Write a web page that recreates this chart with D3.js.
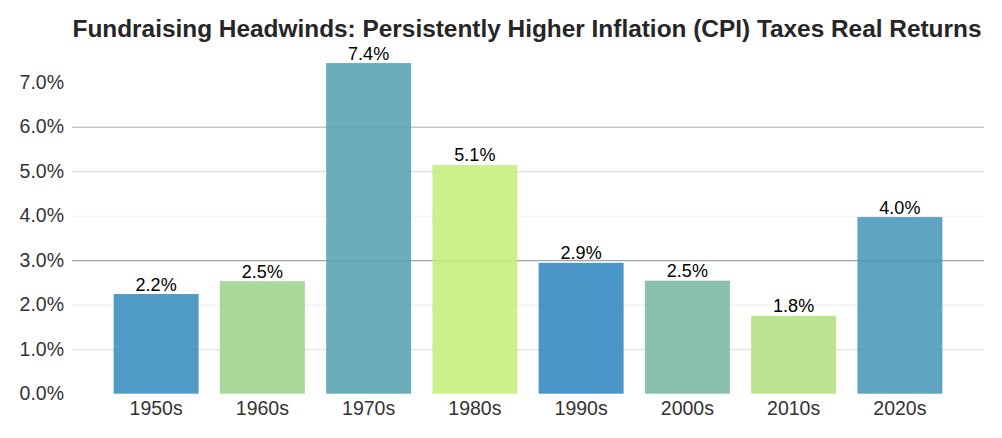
<!DOCTYPE html>
<html>
<head>
<meta charset="utf-8">
<script src="https://cdn.jsdelivr.net/npm/d3@7"></script>
<style>
  body { margin: 0; background: #fff; }
  svg text { font-family: "Liberation Sans", Arial, sans-serif; }
</style>
</head>
<body>
<div id="chart"></div>
<script>
// decades and average CPI inflation (%)
var decades = ["1950s", "1960s", "1970s", "1980s", "1990s", "2000s", "2010s", "2020s"];
var inflation = [2.24, 2.53, 7.43, 5.14, 2.94, 2.54, 1.75, 3.97];
var valueLabels = ["2.2%", "2.5%", "7.4%", "5.1%", "2.9%", "2.5%", "1.8%", "4.0%"];
var yTicks = [0, 1, 2, 3, 4, 5, 6, 7];
var barColors = ["#328abe", "#99d289", "#50a0af", "#c3ed75", "#2a84be", "#74b69d", "#afdf7c", "#4394b8"];

var width = 1002, height = 438;

var svg = d3.select("#chart")
    .append("svg")
    .attr("width", width)
    .attr("height", height);

// title
svg.append("text")
    .attr("x", 527)
    .attr("y", 37)
    .attr("text-anchor", "middle")
    .style("font-size", "24.4px")
    .style("font-weight", "bold")
    .style("fill", "#262626")
    .text("Fundraising Headwinds: Persistently Higher Inflation (CPI) Taxes Real Returns");

var yScale = d3.scaleLinear()
    .domain([0, 7])
    .range([393.7, 82.2]);

var xScale = d3.scaleBand()
    .domain(decades)
    .range([103, 953])
    .paddingInner(0.2)
    .paddingOuter(0.1);

// gridlines drawn with the y axis, each one its own shade like the original
var gridColors = {1: "#dcdcdc", 2: "#ececec", 3: "#8f8f8f", 4: "#f0f0f0", 5: "#d4d4d4", 6: "#aaaaaa"};

var yAxis = svg.append("g")
    .attr("transform", "translate(72,0)")
    .call(d3.axisLeft(yScale)
        .tickValues(yTicks)
        .tickSize(-912)
        .tickPadding(8)
        .tickFormat(d => d.toFixed(1) + "%"));

yAxis.select(".domain").remove();
yAxis.selectAll(".tick line")
    .attr("stroke", d => gridColors[d] || "none")
    .attr("stroke-width", 1);
yAxis.selectAll(".tick text")
    .style("font-size", "19.5px")
    .style("fill", "#333");

// bars
svg.append("g")
    .selectAll("rect")
    .data(decades)
    .enter()
    .append("rect")
    .attr("x", d => xScale(d))
    .attr("width", xScale.bandwidth())
    .attr("y", (d, i) => yScale(inflation[i]))
    .attr("height", (d, i) => yScale(0) - yScale(inflation[i]))
    .attr("fill", (d, i) => barColors[i])
    .attr("fill-opacity", 0.85);

// value labels
svg.append("g")
    .selectAll("text")
    .data(decades)
    .enter()
    .append("text")
    .attr("x", d => xScale(d) + xScale.bandwidth() / 2)
    .attr("y", (d, i) => yScale(inflation[i]) - 3.5)
    .attr("text-anchor", "middle")
    .style("font-size", "18px")
    .style("fill", "#000")
    .text((d, i) => valueLabels[i]);

// x axis labels
var xAxis = svg.append("g")
    .attr("transform", `translate(0,${yScale(0)})`)
    .call(d3.axisBottom(xScale).tickSize(0).tickPadding(7));

xAxis.select(".domain").remove();
xAxis.selectAll(".tick text")
    .style("font-size", "19.5px")
    .style("fill", "#333");
</script>
</body>
</html>
